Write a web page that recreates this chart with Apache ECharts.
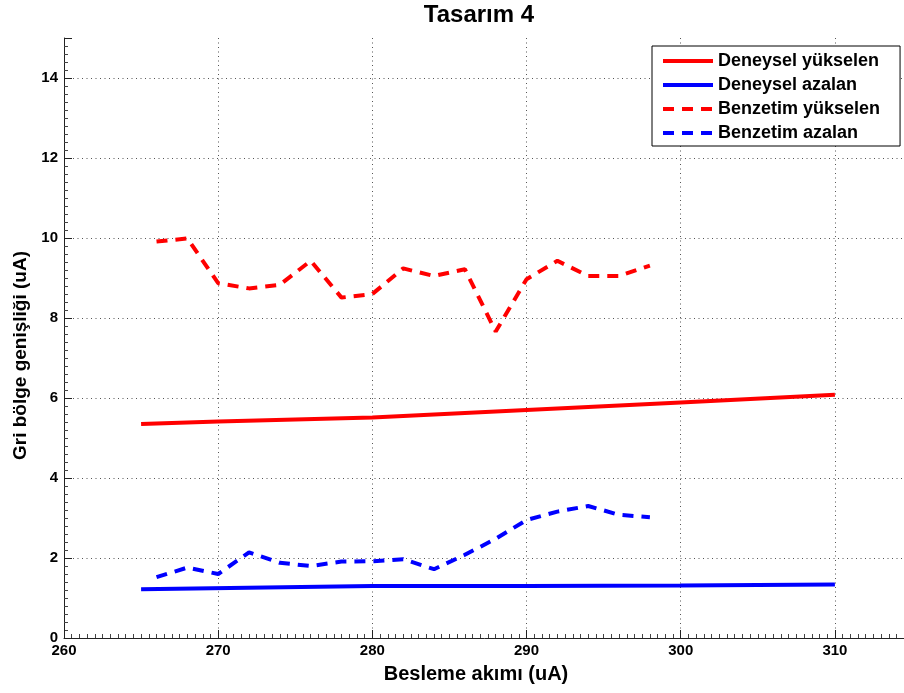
<!DOCTYPE html>
<html>
<head>
<meta charset="utf-8">
<title>Tasarım 4</title>
<script src="https://cdn.jsdelivr.net/npm/echarts@6/dist/echarts.min.js"></script>
<style>
  html, body { margin: 0; padding: 0; background: #fff; }
  #chart { width: 904px; height: 693px; }
</style>
</head>
<body>
<div id="chart"></div>
<script>
// Measured band width against bias current
const expRiseX = [265, 270, 280, 290, 300, 310];
const expRiseY = [5.35, 5.41, 5.51, 5.70, 5.89, 6.08];
const expFallX = [265, 280, 290, 300, 310];
const expFallY = [1.22, 1.30, 1.30, 1.31, 1.34];

// Simulated band width, sampled every 2 uA
const simX = [266, 268, 270, 272, 274, 276, 278, 280, 282, 284, 286, 288, 290, 292, 294, 296, 298];
const simRiseY = [9.91, 9.99, 8.87, 8.74, 8.83, 9.43, 8.51, 8.60, 9.24, 9.05, 9.22, 7.66, 8.97, 9.43, 9.05, 9.05, 9.31];
const simFallY = [1.52, 1.76, 1.60, 2.14, 1.88, 1.80, 1.91, 1.92, 1.97, 1.72, 2.08, 2.48, 2.95, 3.16, 3.30, 3.08, 3.02];

const seriesNames = ['Deneysel yükselen', 'Deneysel azalan', 'Benzetim yükselen', 'Benzetim azalan'];

const FONT = '"Liberation Sans", Arial, Helvetica, sans-serif';
const pairs = (xs, ys) => xs.map((x, i) => [x, ys[i]]);

function lineSeries(name, color, xs, ys, dashed) {
  return {
    name: name,
    type: 'line',
    data: pairs(xs, ys),
    symbol: 'none',
    smooth: false,
    lineStyle: { color: color, width: 4, type: dashed ? [11, 8] : 'solid', cap: 'butt' },
    itemStyle: { color: color },
    emphasis: { disabled: true },
    z: 3
  };
}

const chart = echarts.init(document.getElementById('chart'), null, { renderer: 'canvas' });

const axisCommon = {
  axisLine: { show: true, onZero: false, lineStyle: { color: '#222', width: 1 } },
  axisTick: { show: true, inside: true, length: 8, lineStyle: { color: '#222', width: 1 } },
  minorTick: { show: true, length: 4, lineStyle: { color: '#444', width: 1 } },
  splitLine: { show: true, showMinLine: false, showMaxLine: false, lineStyle: { color: '#555', width: 1, type: [1, 3.5] } },
  axisLabel: { color: '#000', fontFamily: FONT, fontSize: 15, fontWeight: 'bold', showMaxLabel: false }
};

chart.setOption({
  backgroundColor: '#fff',
  animation: false,
  title: {
    text: 'Tasarım 4',
    left: 479,
    top: 3,
    textAlign: 'center',
    padding: 0,
    textStyle: { color: '#000', fontFamily: FONT, fontSize: 24, fontWeight: 'bold' }
  },
  // the plot area runs past the right edge of the canvas (axis ends at 315)
  grid: { left: 64, right: -8, top: 38, bottom: 55, containLabel: false, outerBoundsMode: 'none' },
  legend: {
    data: seriesNames,
    orient: 'vertical',
    left: 652,
    top: 46,
    padding: [6, 20, 4, 9],
    itemWidth: 50,
    itemHeight: 18,
    itemGap: 6,
    itemTextGap: 5,
    backgroundColor: '#fff',
    borderColor: '#000',
    borderWidth: 1,
    borderRadius: 0,
    selectedMode: false,
    lineStyle: { width: 4 },
    itemStyle: { opacity: 0 },
    textStyle: { color: '#000', fontFamily: FONT, fontSize: 18, fontWeight: 'bold' }
  },
  xAxis: Object.assign({}, axisCommon, {
    type: 'value',
    min: 260,
    max: 315,
    interval: 10,
    minorTick: Object.assign({}, axisCommon.minorTick, { splitNumber: 20 }),
    axisLabel: Object.assign({}, axisCommon.axisLabel, { margin: 5 }),
    name: 'Besleme akımı (uA)',
    nameLocation: 'middle',
    nameGap: 26,
    nameTextStyle: { color: '#000', fontFamily: FONT, fontSize: 20, fontWeight: 'bold', padding: [0, 24, 0, 0] }
  }),
  yAxis: Object.assign({}, axisCommon, {
    type: 'value',
    min: 0,
    max: 15,
    interval: 2,
    minorTick: Object.assign({}, axisCommon.minorTick, { splitNumber: 10 }),
    axisLabel: Object.assign({}, axisCommon.axisLabel, { margin: 6 }),
    name: 'Gri bölge genişliği (uA)',
    nameLocation: 'middle',
    nameGap: 34,
    nameTextStyle: { color: '#000', fontFamily: FONT, fontSize: 19, fontWeight: 'bold', padding: [0, 35, 0, 0] }
  }),
  series: [
    lineSeries(seriesNames[0], '#ff0000', expRiseX, expRiseY, false),
    lineSeries(seriesNames[1], '#0000ff', expFallX, expFallY, false),
    lineSeries(seriesNames[2], '#ff0000', simX, simRiseY, true),
    lineSeries(seriesNames[3], '#0000ff', simX, simFallY, true)
  ]
});
</script>
</body>
</html>
